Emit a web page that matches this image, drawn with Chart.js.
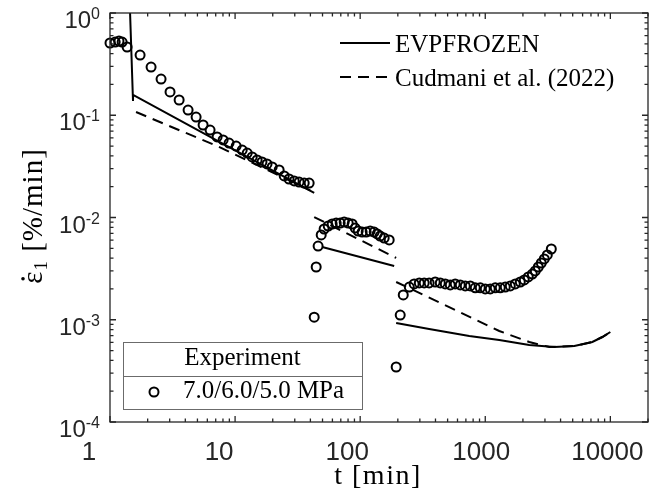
<!DOCTYPE html>
<html>
<head>
<meta charset="utf-8">
<script src="https://cdn.jsdelivr.net/npm/chart.js@4.4.1/dist/chart.umd.min.js"></script>
<style>
  body { margin: 0; background: #fff; }
  canvas { display: block; }
</style>
</head>
<body>
<canvas id="creepChart" width="660" height="501"></canvas>
<script>
// Experiment, three load stages (t in min, strain rate in %/min)
const stage1Time = [1.0, 1.1, 1.18, 1.25, 1.37, 1.74, 2.13, 2.56, 3.02, 3.57, 4.21, 4.88, 5.55, 6.31, 7.18, 8.02, 8.95, 10.2, 11.4, 12.5, 13.7, 15.0, 16.4, 18.0, 19.8, 22.5, 24.7, 27.0, 29.7, 32.5, 35.7, 39.1];
const stage1Rate = [0.509, 0.520, 0.532, 0.520, 0.465, 0.388, 0.296, 0.226, 0.169, 0.141, 0.1125, 0.0961, 0.0803, 0.0717, 0.0613, 0.0573, 0.0535, 0.0500, 0.0457, 0.0427, 0.0391, 0.0365, 0.0349, 0.0334, 0.0312, 0.0292, 0.0255, 0.0238, 0.0228, 0.0222, 0.0217, 0.0217];

const stage2Time = [42.9, 44.5, 46.1, 48.8, 51.5, 55.5, 59.7, 64.3, 69.2, 74.5, 80.2, 86.3, 91.2, 96.4, 103.7, 111.7, 120.2, 129.4, 136.8, 144.5, 155.6, 170.6];
const stage2Rate = [0.00106, 0.00328, 0.00526, 0.00675, 0.00772, 0.00826, 0.00864, 0.00883, 0.00883, 0.00904, 0.00883, 0.00864, 0.00789, 0.00738, 0.00721, 0.00721, 0.00738, 0.00721, 0.0069, 0.00659, 0.0063, 0.00603];

const stage3Time = [194, 209, 221, 247, 270, 297, 325, 356, 398, 437, 479, 525, 575, 631, 692, 759, 832, 912, 1000, 1096, 1202, 1318, 1445, 1585, 1738, 1905, 2051, 2208, 2377, 2512, 2655, 2805, 2965, 3133, 3373];
const stage3Rate = [0.000345, 0.00111, 0.00175, 0.00209, 0.00224, 0.00229, 0.00229, 0.00229, 0.00234, 0.00229, 0.00224, 0.00219, 0.00224, 0.00219, 0.00214, 0.00214, 0.00205, 0.00205, 0.002, 0.002, 0.00205, 0.00205, 0.00209, 0.00214, 0.00224, 0.00234, 0.00245, 0.00262, 0.0028, 0.003, 0.00328, 0.00359, 0.00393, 0.0043, 0.00492];

// Model curves, null splits the load stages
const evpTime = [1.42, 1.527, 1.53, 7.18, 42.9, null, 49.7, 187, null, 194, 356, 745, 1294, 2249, 3565, 5152, 7178, 8630, 10000];
const evpRate = [2.0, 0.138, 0.158, 0.0566, 0.0174, null, 0.00515, 0.00336, null, 0.000929, 0.000812, 0.000694, 0.000634, 0.000566, 0.000541, 0.000553, 0.000606, 0.000678, 0.000759];

const cudTime = [1.615, 7.18, 42.1, null, 42.9, 194, null, 194, 515, 1294, 2249, 3251, 5152, 7178, 8630, 10000];
const cudRate = [0.1075, 0.050, 0.0178, null, 0.0101, 0.00402, null, 0.00234, 0.00133, 0.000776, 0.000606, 0.000541, 0.000553, 0.000606, 0.000678, 0.000759];

// Axis ticks
const xTicks = [1, 10, 100, 1000, 10000];
const yTickExp = [0, -1, -2, -3, -4];

const SERIF = "'Liberation Serif', 'Times New Roman', serif";
const SANS = "'Liberation Sans', Arial, sans-serif";

function pairs(ts, vs) {
  return ts.map((t, i) => ({ x: t, y: vs[i] }));
}

// Draw the boxed axes, log ticks, labels and both legends
const frame = {
  id: 'frame',
  afterDraw(chart) {
    const { ctx, chartArea: a, scales: { x, y } } = chart;
    ctx.save();

    // box
    ctx.strokeStyle = '#262626';
    ctx.lineWidth = 1.3;
    ctx.strokeRect(a.left, a.top, a.right - a.left, a.bottom - a.top);

    // minor and major ticks, all four sides
    ctx.beginPath();
    for (let e = 0; e <= 4; e++) {
      for (let k = 1; k <= 9; k++) {
        const v = k * Math.pow(10, e);
        if (v > x.max) break;
        const px = x.getPixelForValue(v);
        const len = k === 1 ? 6 : 3.5;
        ctx.moveTo(px, a.bottom); ctx.lineTo(px, a.bottom - len);
        ctx.moveTo(px, a.top); ctx.lineTo(px, a.top + len);
      }
    }
    for (let e = -4; e <= 0; e++) {
      for (let k = 1; k <= 9; k++) {
        const v = k * Math.pow(10, e);
        if (v > y.max) break;
        const py = y.getPixelForValue(v);
        const len = k === 1 ? 6 : 3.5;
        ctx.moveTo(a.left, py); ctx.lineTo(a.left + len, py);
        ctx.moveTo(a.right, py); ctx.lineTo(a.right - len, py);
      }
    }
    ctx.stroke();

    ctx.fillStyle = '#262626';
    ctx.textBaseline = 'alphabetic';

    // x tick labels, they sit a little left of their ticks
    const nudge = [-21, -16, -13, -4, -3];
    ctx.font = '26px ' + SANS;
    ctx.textAlign = 'center';
    xTicks.forEach((v, i) => {
      ctx.fillText(String(v), x.getPixelForValue(v) + nudge[i], 460);
    });

    // y tick labels as 10 with a raised exponent
    ctx.textAlign = 'left';
    yTickExp.forEach(e => {
      const py = y.getPixelForValue(Math.pow(10, e));
      const sup = String(e);
      ctx.font = '16px ' + SANS;
      const supW = ctx.measureText(sup).width;
      ctx.font = '24px ' + SANS;
      const baseW = ctx.measureText('10').width;
      const right = 100;
      ctx.fillText('10', right - supW - baseW, py + 15);
      ctx.font = '16px ' + SANS;
      ctx.fillText(sup, right - supW, py + 6);
    });

    // axis titles
    ctx.fillStyle = '#000';
    ctx.font = '28px ' + SERIF;
    ctx.letterSpacing = '1.5px';
    ctx.textAlign = 'center';
    ctx.fillText('t [min]', (a.left + a.right) / 2 - 1, 484);

    ctx.save();
    ctx.translate(42, 216);
    ctx.rotate(-Math.PI / 2);
    ctx.textAlign = 'left';
    ctx.letterSpacing = '1px';
    const big = '29px ' + SERIF;
    const small = '19px ' + SERIF;
    ctx.font = big;
    const wEps = ctx.measureText('ε').width;
    const wRest = ctx.measureText(' [%/min]').width;
    ctx.font = small;
    const wSub = ctx.measureText('1').width;
    let tx = -(wEps + wSub + wRest) / 2;
    ctx.font = big;
    ctx.fillText('ε', tx, 0);
    ctx.beginPath();
    ctx.arc(tx + wEps / 2 - 1.5, -19, 1.8, 0, Math.PI * 2);
    ctx.fill();
    tx += wEps;
    ctx.font = small;
    ctx.fillText('1', tx, 5);
    tx += wSub;
    ctx.font = big;
    ctx.fillText(' [%/min]', tx, 0);
    ctx.restore();
    ctx.letterSpacing = '0px';

    // model legend, top right
    ctx.strokeStyle = '#000';
    ctx.lineWidth = 2;
    ctx.beginPath();
    ctx.moveTo(340, 43); ctx.lineTo(390, 43);
    ctx.stroke();
    ctx.setLineDash([11, 7]);
    ctx.beginPath();
    ctx.moveTo(340, 77); ctx.lineTo(390, 77);
    ctx.stroke();
    ctx.setLineDash([]);
    ctx.font = '25px ' + SERIF;
    ctx.textAlign = 'left';
    ctx.fillText('EVPFROZEN', 395, 52);
    ctx.fillText('Cudmani et al. (2022)', 395, 86);

    // experiment legend, bottom left
    const bx = 123, by = 342, bw = 239, bh = 67;
    ctx.fillStyle = '#fff';
    ctx.fillRect(bx, by, bw, bh);
    ctx.strokeStyle = '#6b6b6b';
    ctx.lineWidth = 1;
    ctx.strokeRect(bx + 0.5, by + 0.5, bw, bh);
    ctx.beginPath();
    ctx.moveTo(bx, by + 34.5); ctx.lineTo(bx + bw, by + 34.5);
    ctx.stroke();
    ctx.fillStyle = '#000';
    ctx.textAlign = 'center';
    ctx.fillText('Experiment', bx + bw / 2, 365);
    ctx.textAlign = 'left';
    ctx.fillText('7.0/6.0/5.0 MPa', 183, 398);
    ctx.strokeStyle = '#000';
    ctx.lineWidth = 2;
    ctx.beginPath();
    ctx.arc(154, 392, 4.5, 0, Math.PI * 2);
    ctx.stroke();

    ctx.restore();
  }
};

const lineStyle = {
  showLine: true,
  pointRadius: 0,
  borderColor: '#000',
  borderWidth: 2,
  backgroundColor: 'transparent'
};

new Chart(document.getElementById('creepChart'), {
  type: 'scatter',
  data: {
    datasets: [
      {
        label: '7.0/6.0/5.0 MPa',
        data: pairs(stage1Time.concat(stage2Time, stage3Time), stage1Rate.concat(stage2Rate, stage3Rate)),
        pointStyle: 'circle',
        pointRadius: 4.5,
        pointBorderWidth: 2,
        borderColor: '#000',
        backgroundColor: 'transparent',
        clip: false
      },
      Object.assign({ label: 'EVPFROZEN', data: pairs(evpTime, evpRate) }, lineStyle),
      Object.assign({ label: 'Cudmani et al. (2022)', data: pairs(cudTime, cudRate), borderDash: [11, 7] }, lineStyle)
    ]
  },
  options: {
    responsive: false,
    animation: false,
    devicePixelRatio: 1,
    layout: { padding: { left: 0, top: 13, right: 12, bottom: 0 } },
    plugins: {
      legend: { display: false },
      tooltip: { enabled: false }
    },
    scales: {
      x: {
        type: 'logarithmic',
        min: 1,
        max: 20000,
        grid: { display: false },
        border: { display: false },
        ticks: { display: false },
        afterFit: s => { s.height = 79; }
      },
      y: {
        type: 'logarithmic',
        min: 1e-4,
        max: 1,
        grid: { display: false },
        border: { display: false },
        ticks: { display: false },
        afterFit: s => { s.width = 110; }
      }
    }
  },
  plugins: [frame]
});
</script>
</body>
</html>
